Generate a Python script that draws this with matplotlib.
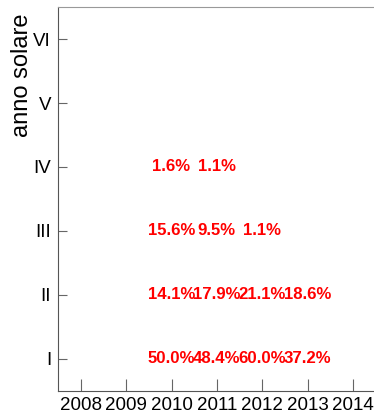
import numpy as np
import matplotlib.pyplot as plt

plt.rcParams['font.family'] = ['Liberation Sans', 'DejaVu Sans']

anni = [2008, 2009, 2010, 2011, 2012, 2013, 2014]
livelli = ['I', 'II', 'III', 'IV', 'V', 'VI']

# percentuali per anno (2010-2013) e anno solare (I..IV)
anni_dati = [2010, 2011, 2012, 2013]
perc_I = ['50.0%', '48.4%', '60.0%', '37.2%']
perc_II = ['14.1%', '17.9%', '21.1%', '18.6%']
perc_III = ['15.6%', '9.5%', '1.1%', '']
perc_IV = ['1.6%', '1.1%', '', '']

fig = plt.figure(figsize=(3.74, 4.12), dpi=100)
ax = fig.add_axes([0.155, 0.051, 0.85, 0.932])

righe = [perc_I, perc_II, perc_III, perc_IV]
for i, riga in enumerate(righe):
    for anno, txt in zip(anni_dati, riga):
        if txt:
            ax.text(anno, i + 1, txt, color='#ff0000', fontsize=12.1,
                    fontweight='bold', ha='center', va='center')

ax.set_xlim(2007.5, 2014.5)
ax.set_ylim(0.5, 6.5)
ax.set_xticks(anni)
ax.set_xticklabels([str(a) for a in anni], fontsize=13.5)
ax.set_yticks(np.arange(1, 7))
ax.set_yticklabels(livelli, fontsize=13.5)

ax.tick_params(axis='x', direction='in', length=9, color='#666666', pad=4)
ax.tick_params(axis='y', direction='in', length=6.5, color='#666666', pad=5)

ax.spines['right'].set_visible(False)
ax.spines['left'].set_color('#555555')
ax.spines['bottom'].set_color('#555555')
ax.spines['top'].set_color('#999999')

ax.set_ylabel('anno solare', fontsize=17)
ax.yaxis.set_label_coords(-0.08, 0.822)

fig.savefig('out.png', dpi=100)
